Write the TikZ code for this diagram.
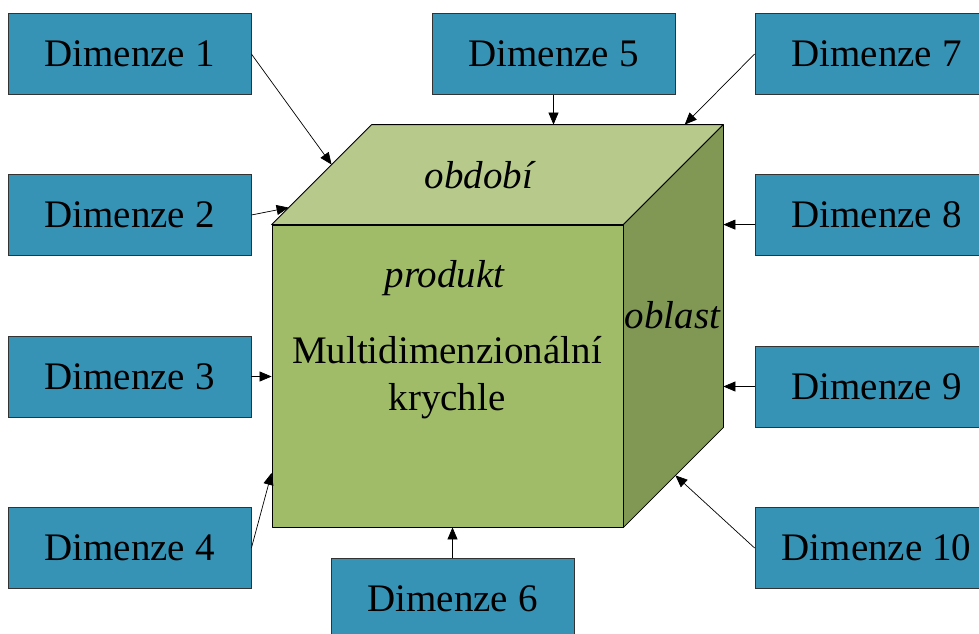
\documentclass[tikz,border=0pt]{standalone}
\usepackage{fontspec}
\setmainfont{Liberation Serif}
\usetikzlibrary{arrows.meta, calc}

\definecolor{dimblue}{RGB}{55,147,181}
\definecolor{cubefront}{RGB}{161,188,104}
\definecolor{cubetop}{RGB}{183,202,139}
\definecolor{cubeside}{RGB}{128,152,84}

\begin{document}
\begin{tikzpicture} [x = 1pt, y = -1pt,
    dim/.style = {draw = black!80, fill = dimblue, line width = 0.8pt,
                  minimum width = 243pt, minimum height = 81pt, inner sep = 0pt,
                  font = \fontsize{39}{47}\selectfont},
    face/.style = {draw = black, line width = 0.8pt, line join = round},
    lbl/.style = {font = \fontsize{39}{47}\selectfont\itshape, anchor = base},
    link/.style = {-{Triangle[length = 12pt, width = 10pt]}, line width = 0.7pt}]

\clip (0,0) rectangle (979,633);
\fill [white] (0,0) rectangle (979,633);

% the cube
\node (front) [face, fill = cubefront, minimum width = 351pt, minimum height = 302pt,
               inner sep = 0pt] at (447.5,376) {};
\coordinate (tnw) at ($(front.north west) + (100,-100)$);
\coordinate (tne) at ($(front.north east) + (100,-100)$);
\coordinate (bse) at ($(front.south east) + (100,-100)$);
\draw [face, fill = cubetop]  (front.north west) -- (tnw) -- (tne) -- (front.north east) -- cycle;
\draw [face, fill = cubeside] (front.north east) -- (tne) -- (bse) -- (front.south east) -- cycle;

\node (obd)  [lbl] at (479,188)   {období};
\node (prod) [lbl] at (444.5,287) {produkt};
\node (obl)  [lbl] at (672.5,328) {oblast};
\node (cube) [font = \fontsize{39}{47}\selectfont, align = center] at (447,378)
    {Multidimenzionální\\krychle};

% dimensions
\node (dim1)  [dim] at (129.5,54)    {Dimenze 1};
\node (dim2)  [dim] at (129.5,215)   {Dimenze 2};
\node (dim3)  [dim] at (129.5,376.5) {Dimenze 3};
\node (dim4)  [dim] at (129.5,548)   {Dimenze 4};
\node (dim5)  [dim] at (553.5,54)    {Dimenze 5};
\node (dim6)  [dim] at (452.5,598.5) {Dimenze 6};
\node (dim7)  [dim] at (876.5,54)    {Dimenze 7};
\node (dim8)  [dim] at (876.5,215)   {Dimenze 8};
\node (dim9)  [dim] at (876.5,386.5) {Dimenze 9};
\node (dim10) [dim] at (876.5,548)   {Dimenze 10};

\coordinate (e1)  at ($(front.north west)!0.6!(tnw)$);
\coordinate (e2)  at ($(front.north west)!0.17!(tnw)$);
\coordinate (e4)  at ($(front.south west)!0.18!(front.north west)$);
\coordinate (e7)  at ($(tnw)!0.89!(tne)$);
\coordinate (e10) at ($(front.south east)!0.52!(bse)$);

\draw [link] (dim1.east) -- (e1);
\draw [link] (dim2.east) -- (e2);
\draw [link] (dim3.east) -- (dim3.east -| front.west);
\draw [link] (dim4.east) -- (e4);
\draw [link] (dim5.south) -- (dim5.south |- tnw);
\draw [link] (dim6.north) -- (dim6.north |- front.south);
\draw [link] (dim7.west) -- (e7);
\draw [link] (dim8.west |- front.north) -- (tne |- front.north);
\draw [link] (dim9.west) -- (dim9.west -| tne);
\draw [link] (dim10.west) -- (e10);

\end{tikzpicture}
\end{document}
